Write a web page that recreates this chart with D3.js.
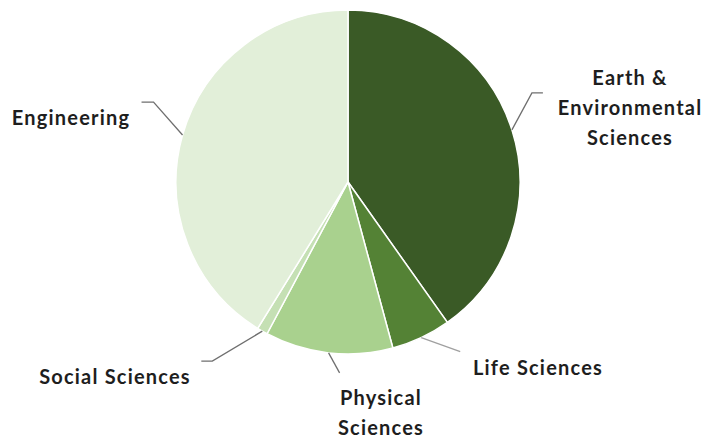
<!DOCTYPE html>
<html>
<head>
<meta charset="utf-8">
<script src="https://cdn.jsdelivr.net/npm/d3@7"></script>
<style>
  body { margin: 0; background: #fff; }
  text { font-family: Lato, "Open Sans", sans-serif; font-weight: bold; fill: #1e1e1e; }
</style>
</head>
<body>
<svg width="711" height="435"></svg>
<script>
/* slices, clockwise from 12 o'clock (percent of total) */
var categories = ["Earth & Environmental Sciences", "Life Sciences", "Physical Sciences", "Social Sciences", "Engineering"];
var shares = [40.2, 5.6, 12.0, 1.0, 41.2];
var colours = ["#3a5a26", "#548235", "#a9d18e", "#c5e0b4", "#e2efd9"];

/* label text split into lines */
var labelLines = [["Earth &", "Environmental", "Sciences"], ["Life Sciences"], ["Physical", "Sciences"], ["Social Sciences"], ["Engineering"]];

var svg = d3.select("svg"),
    cx = 348, cy = 182, radius = 172;

/* leader: elbow offset from the slice edge, then a short horizontal run; label centre */
var layout = [
  {elbow: [20, -37], run: 11, lx: 630, ly: 78},
  {elbow: [39, 14], run: 0, lx: 538, ly: 368},
  {elbow: [11, 20], run: 0, lx: 381, ly: 398},
  {elbow: [-50, 30], run: -11, lx: 115, ly: 377},
  {elbow: [-29, -33], run: -12, lx: 71, ly: 118}
];

var data = categories.map(function(c, i) { return {name: c, value: shares[i], i: i}; });

var pie = d3.pie().sort(null).value(function(d) { return d.value; });
var arc = d3.arc().innerRadius(0).outerRadius(radius);

var g = svg.append("g").attr("transform", "translate(" + cx + "," + cy + ")");
var arcs = pie(data);

g.selectAll("path.slice")
  .data(arcs)
  .enter().append("path")
    .attr("class", "slice")
    .attr("d", arc)
    .attr("fill", function(d) { return colours[d.data.i]; })
    .attr("stroke", "#fff")
    .attr("stroke-width", 1.5);

/* leader lines */
arcs.forEach(function(d) {
  var L = layout[d.data.i];
  var a = (d.startAngle + d.endAngle) / 2;
  var x0 = radius * Math.sin(a), y0 = -radius * Math.cos(a);
  var x1 = x0 + L.elbow[0], y1 = y0 + L.elbow[1];
  var pts = [[x0, y0], [x1, y1]];
  if (L.run) pts.push([x1 + L.run, y1]);
  g.append("path")
    .attr("d", d3.line()(pts))
    .attr("fill", "none")
    .attr("stroke", d.data.i == 1 ? "#a0a0a0" : "#6f6f6f")
    .attr("stroke-width", 1.3);
});

/* labels */
labelLines.forEach(function(lines, i) {
  var L = layout[i];
  var t = svg.append("text")
    .attr("text-anchor", "middle")
    .attr("font-size", 20)
    .attr("letter-spacing", "1.2px");
  lines.forEach(function(s, k) {
    t.append("tspan")
      .attr("x", L.lx)
      .attr("y", L.ly + k * 30)
      .attr("dy", "0.35em")
      .text(s);
  });
});
</script>
</body>
</html>
